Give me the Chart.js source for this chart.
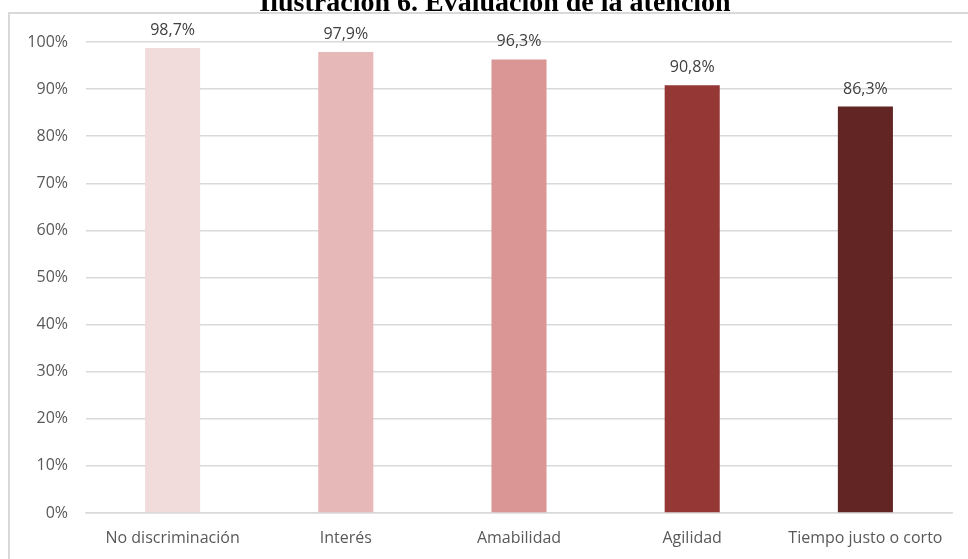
<!DOCTYPE html>
<html>
<head>
<meta charset="utf-8">
<script src="https://cdn.jsdelivr.net/npm/chart.js@4/dist/chart.umd.min.js"></script>
<style>
  html, body { margin: 0; padding: 0; background: #fff; overflow: hidden; }
  #wrap { position: relative; width: 968px; height: 559px; }
  #frame {
    position: absolute; left: 8px; top: 12px; width: 1000px; height: 600px;
    border-left: 2px solid #d9d9d9; border-top: 2px solid #d9d9d9;
    box-sizing: border-box;
  }
  #title {
    position: absolute; left: 11px; width: 968px; top: -12px; text-align: center;
    font-family: "Liberation Serif", "DejaVu Serif", serif; font-weight: bold;
    font-size: 28px; color: #000; line-height: 28px; white-space: nowrap;
  }
  #chart { position: absolute; left: 0; top: 0; }
</style>
</head>
<body>
<div id="wrap">
  <div id="frame"></div>
  <canvas id="chart" width="968" height="559"></canvas>
  <div id="title">Ilustración 6. Evaluación de la atención</div>
</div>
<script>
// Evaluación de la atención: porcentaje por aspecto
const aspectos = ['No discriminación', 'Interés', 'Amabilidad', 'Agilidad', 'Tiempo justo o corto'];
const porcentajes = [98.7, 97.9, 96.3, 90.8, 86.3];
const colores = ['#F2DCDB', '#E6B9B8', '#D99694', '#953735', '#632523'];
const ticksEje = [0, 10, 20, 30, 40, 50, 60, 70, 80, 90, 100];

const fmt = v => v.toFixed(1).replace('.', ',') + '%';

// etiquetas de valor encima de cada barra
const etiquetas = {
    id: 'etiquetas',
    afterDatasetsDraw(chart) {
        const ctx = chart.ctx;
        const meta = chart.getDatasetMeta(0);
        ctx.save();
        ctx.font = '16px "Open Sans"';
        ctx.fillStyle = '#404040';
        ctx.textAlign = 'center';
        ctx.textBaseline = 'alphabetic';
        meta.data.forEach((bar, i) => {
            ctx.fillText(fmt(porcentajes[i]), bar.x, bar.y - 13);
        });
        ctx.restore();
    }
};

new Chart(document.getElementById('chart').getContext('2d'), {
    type: 'bar',
    data: {
        labels: aspectos,
        datasets: [{
            data: porcentajes,
            backgroundColor: colores,
            borderWidth: 0,
            categoryPercentage: 1,
            barPercentage: 0.318
        }]
    },
    options: {
        responsive: false,
        animation: false,
        layout: { padding: { top: 42, right: 16, left: 0, bottom: 0 } },
        plugins: { legend: { display: false }, tooltip: { enabled: false } },
        scales: {
            y: {
                min: 0,
                max: 100,
                afterBuildTicks: s => { s.ticks = ticksEje.map(v => ({ value: v })); },
                afterFit: s => { s.width = 86; },
                border: { display: false },
                grid: { color: '#D9D9D9', lineWidth: 1.5, drawTicks: false },
                ticks: {
                    padding: 18,
                    color: '#595959',
                    font: { family: 'Open Sans', size: 16 },
                    callback: v => v + '%'
                }
            },
            x: {
                afterFit: s => { s.height = 46; },
                border: { color: '#D9D9D9', width: 1.5 },
                grid: { display: false, drawTicks: false },
                ticks: {
                    padding: 16,
                    color: '#595959',
                    font: { family: 'Open Sans', size: 16 },
                    maxRotation: 0
                }
            }
        }
    },
    plugins: [etiquetas]
});
</script>
</body>
</html>
